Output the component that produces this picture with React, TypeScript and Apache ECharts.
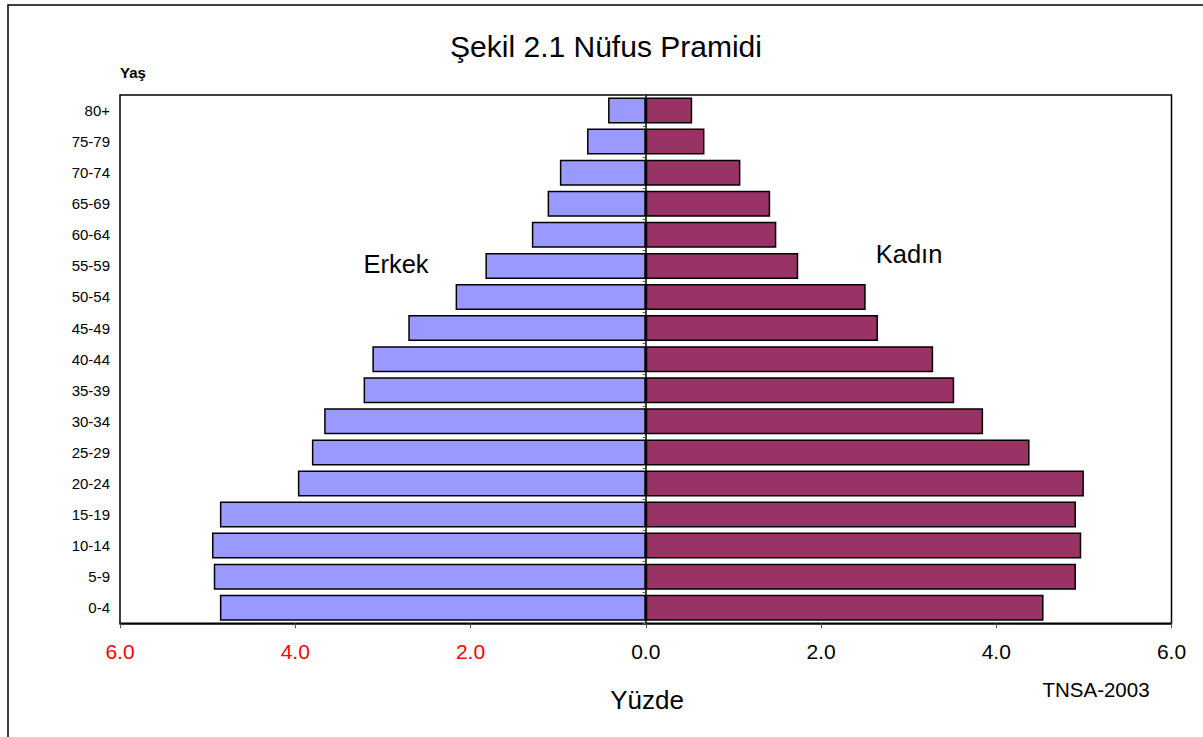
import React, { useEffect, useRef } from "react";
import * as echarts from "echarts";

const ageGroups = ["0-4", "5-9", "10-14", "15-19", "20-24", "25-29", "30-34", "35-39", "40-44", "45-49", "50-54", "55-59", "60-64", "65-69", "70-74", "75-79", "80+"];
const erkek = [4.86, 4.93, 4.95, 4.86, 3.97, 3.81, 3.67, 3.22, 3.12, 2.71, 2.17, 1.83, 1.30, 1.12, 0.98, 0.67, 0.43];
const kadin = [4.54, 4.91, 4.97, 4.91, 5.00, 4.38, 3.85, 3.52, 3.28, 2.65, 2.51, 1.74, 1.49, 1.42, 1.08, 0.67, 0.53];
const xMin = -6;
const xMax = 6;
const xStep = 2;

const FONT = "'Liberation Sans', Arial, sans-serif";

export default function App() {
  const ref = useRef<HTMLDivElement>(null);
  useEffect(() => {
    if (!ref.current) return;
    const chart = echarts.init(ref.current, null, { renderer: "svg" });
    chart.setOption({
      animation: false,
      backgroundColor: "#ffffff",
      textStyle: { fontFamily: FONT },
      grid: {
        left: 120,
        right: 31.5,
        top: 95,
        bottom: 113.7,
        show: true,
        borderColor: "#000",
        borderWidth: 1.5,
        backgroundColor: "transparent",
      },
      xAxis: {
        type: "value",
        min: xMin,
        max: xMax,
        interval: xStep,
        splitLine: { show: false },
        axisLine: { show: true, onZero: false, lineStyle: { color: "#000", width: 1.5 } },
        axisTick: { show: true, length: 5, lineStyle: { color: "#555" } },
        axisLabel: {
          margin: 18,
          fontSize: 21,
          fontFamily: FONT,
          color: "#000",
          formatter: (v: number) => (v < 0 ? "{r|" + Math.abs(v).toFixed(1) + "}" : Math.abs(v).toFixed(1)),
          rich: { r: { color: "#ff0000", fontSize: 21, fontFamily: FONT } },
        },
      },
      yAxis: [
        {
          type: "category",
          data: ageGroups,
          position: "left",
          axisLine: { show: false, onZero: false },
          axisTick: { show: false },
          axisLabel: { fontSize: 15, fontFamily: FONT, color: "#000", margin: 10 },
        },
        {
          type: "category",
          data: ageGroups,
          position: "left",
          axisLine: { show: true, onZero: true, lineStyle: { color: "#000", width: 1.5 } },
          axisTick: { show: true, length: 3, lineStyle: { color: "#555" } },
          axisLabel: { show: false },
        },
      ],
      series: [
        {
          name: "Erkek",
          type: "bar",
          yAxisIndex: 0,
          data: erkek.map((v) => -v),
          barWidth: 26,
          barGap: "-100%",
          itemStyle: { color: "#9999ff", borderColor: "#000", borderWidth: 1.5 },
        },
        {
          name: "Kadın",
          type: "bar",
          yAxisIndex: 0,
          data: kadin,
          barWidth: 26,
          barGap: "-100%",
          itemStyle: { color: "#993366", borderColor: "#000", borderWidth: 1.5 },
        },
      ],
      graphic: [
        {
          type: "rect",
          shape: { x: 8, y: 5, width: 1210, height: 760 },
          style: { fill: "none", stroke: "#000", lineWidth: 1.5 },
          z: 100,
        },
        {
          type: "text",
          x: 606,
          y: 46,
          style: { text: "Şekil 2.1 Nüfus Pramidi", fontSize: 30, fontFamily: FONT, fill: "#000", align: "center", verticalAlign: "middle" },
        },
        {
          type: "text",
          x: 120,
          y: 72,
          style: { text: "Yaş", fontSize: 15, fontWeight: "bold", fontFamily: FONT, fill: "#000", align: "left", verticalAlign: "middle" },
        },
        {
          type: "text",
          x: 396,
          y: 264,
          style: { text: "Erkek", fontSize: 25.5, fontFamily: FONT, fill: "#000", align: "center", verticalAlign: "middle" },
        },
        {
          type: "text",
          x: 909,
          y: 254,
          style: { text: "Kadın", fontSize: 25.5, fontFamily: FONT, fill: "#000", align: "center", verticalAlign: "middle" },
        },
        {
          type: "text",
          x: 647,
          y: 700,
          style: { text: "Yüzde", fontSize: 26, fontFamily: FONT, fill: "#000", align: "center", verticalAlign: "middle" },
        },
        {
          type: "text",
          x: 1096,
          y: 689,
          style: { text: "TNSA-2003", fontSize: 20.5, fontFamily: FONT, fill: "#000", align: "center", verticalAlign: "middle" },
        },
      ],
    });
    return () => chart.dispose();
  }, []);
  return (
    <div
      ref={ref}
      style={{ position: "fixed", left: 0, top: 0, width: 1203, height: 737, background: "#fff" }}
    />
  );
}
